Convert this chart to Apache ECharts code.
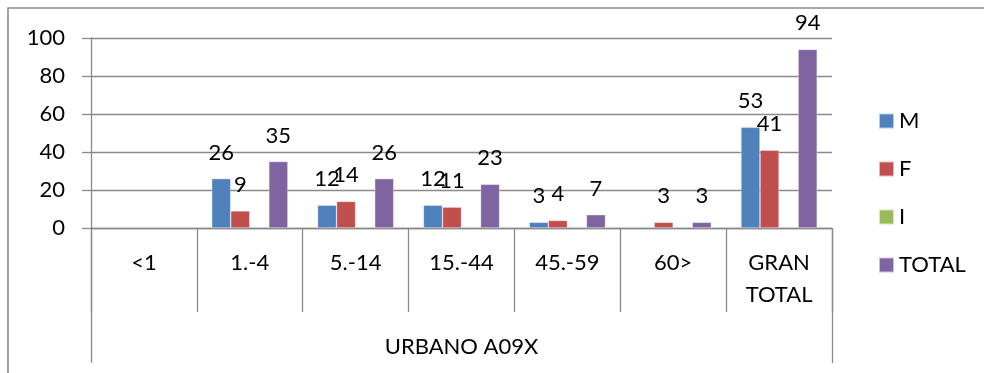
<!DOCTYPE html>
<html>
<head>
<meta charset="utf-8">
<script src="https://cdn.jsdelivr.net/npm/echarts@6/dist/echarts.min.js"></script>
<style>
  html, body { margin: 0; padding: 0; background: #fff; }
  #chart { width: 984px; height: 373px; }
</style>
</head>
<body>
<div id="chart"></div>
<script>
// Age groups and the overall group name
const categories = ['<1', '1.-4', '5.-14', '15.-44', '45.-59', '60>', 'GRAN\nTOTAL'];
const groupName = 'URBANO A09X';

// Counts per series ('-' = no data)
const seriesM = ['-', 26, 12, 12, 3, '-', 53];
const seriesF = ['-', 9, 14, 11, 4, 3, 41];
const seriesI = ['-', '-', '-', '-', '-', '-', '-'];
const seriesTotal = ['-', 35, 26, 23, 7, 3, 94];

const yTicks = { min: 0, max: 100, interval: 20 };

const FONT = 'Lato';
const FONT_SIZE = 22;
const GRID_COLOR = '#8a8a8a';

const chart = echarts.init(document.getElementById('chart'), null, { renderer: 'canvas' });

function barSeries(name, data, color) {
  return {
    name: name,
    type: 'bar',
    xAxisIndex: 0,
    data: data,
    barGap: '0%',
    barCategoryGap: '28%',
    itemStyle: { color: color, borderColor: 'rgba(255,255,255,0.6)', borderWidth: 0.6 },
    label: {
      show: true,
      position: 'top',
      distance: 15,
      fontFamily: FONT,
      fontSize: FONT_SIZE,
      lineHeight: 22,
      color: '#000'
    }
  };
}

chart.setOption({
  animation: false,
  textStyle: { fontFamily: FONT },
  graphic: [{
    type: 'rect',
    shape: { x: 8, y: 8, width: 1000, height: 400 },
    style: { fill: 'none', stroke: '#8c8c8c', lineWidth: 1.6 },
    silent: true
  }],
  grid: { left: 91, right: 152, top: 38, bottom: 145 },
  legend: {
    orient: 'vertical',
    left: 873,
    top: 105,
    icon: 'rect',
    itemWidth: 15,
    itemHeight: 15,
    itemGap: 26,
    textStyle: { fontFamily: FONT, fontSize: FONT_SIZE, color: '#000', lineHeight: 22 },
    data: ['M', 'F', 'I', 'TOTAL']
  },
  xAxis: [{
    type: 'category',
    data: categories,
    position: 'bottom',
    axisLine: { show: true, lineStyle: { color: GRID_COLOR, width: 1.3 } },
    axisTick: { show: true, interval: 0, length: 84, lineStyle: { color: GRID_COLOR, width: 1.3 } },
    axisLabel: {
      interval: 0,
      margin: 19,
      fontFamily: FONT,
      fontSize: FONT_SIZE,
      lineHeight: 32,
      color: '#000',
      verticalAlign: 'top'
    }
  }, {
    type: 'category',
    data: [groupName],
    position: 'bottom',
    axisLine: { show: false },
    axisTick: { show: true, interval: 0, length: 135, lineStyle: { color: GRID_COLOR, width: 1.3 } },
    axisLabel: {
      interval: 0,
      margin: 106,
      fontFamily: FONT,
      fontSize: FONT_SIZE,
      lineHeight: 26,
      color: '#000'
    }
  }],
  yAxis: {
    type: 'value',
    min: yTicks.min,
    max: yTicks.max,
    interval: yTicks.interval,
    axisLine: { show: true, lineStyle: { color: GRID_COLOR, width: 1.3 } },
    axisTick: { show: true, length: 9, lineStyle: { color: GRID_COLOR, width: 1.3 } },
    splitLine: { show: true, lineStyle: { color: GRID_COLOR, width: 1.3 } },
    axisLabel: { margin: 26, fontFamily: FONT, fontSize: FONT_SIZE, color: '#000' }
  },
  series: [
    barSeries('M', seriesM, '#4F81BD'),
    barSeries('F', seriesF, '#C0504D'),
    barSeries('I', seriesI, '#9BBB59'),
    barSeries('TOTAL', seriesTotal, '#8064A2')
  ]
});
</script>
</body>
</html>
